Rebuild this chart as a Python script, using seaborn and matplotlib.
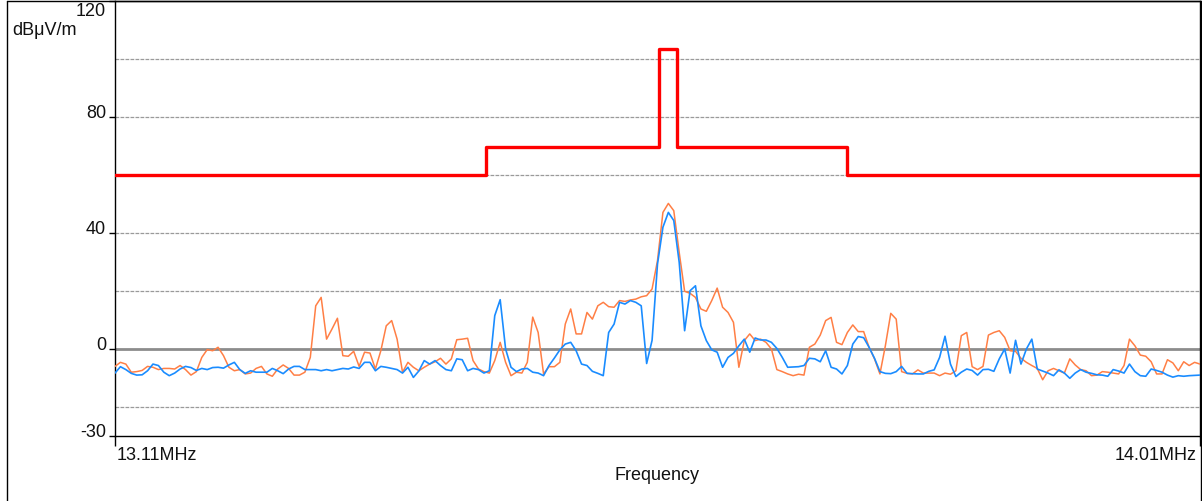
import numpy as np
import pandas as pd
import matplotlib
matplotlib.use("Agg")
import matplotlib.pyplot as plt
from matplotlib.lines import Line2D
import seaborn as sns

# ---- data -------------------------------------------------------------
f_start, f_stop = 13.11, 14.01  # MHz, sweep range

# limit line (dBuV/m), step-post
limit_freq = [13.11, 13.418, 13.561, 13.576, 13.717, 14.01]
limit_level = [60.0, 69.5, 103.5, 69.5, 60.0, 60.0]

# measured trace 1 (orange)
orange = [
    -6.0, -4.6, -5.2, -8.0, -7.8, -7.4, -6.0, -6.3, -7.1, -6.7,
    -6.7, -6.9, -5.7, -7.1, -9.0, -7.8, -2.9, -0.2, -0.6, 0.6,
    -2.3, -6.3, -7.5, -7.1, -8.6, -8.3, -6.7, -6.0, -8.6, -9.4,
    -6.9, -5.5, -6.7, -9.0, -9.0, -8.0, -2.9, 14.9, 17.8, 3.4,
    6.9, 10.6, -2.3, -2.5, -0.8, -6.0, -1.1, -1.4, -6.9, -0.6,
    8.0, 9.8, 3.4, -8.0, -4.6, -6.3, -7.5, -6.3, -5.2, -4.4,
    -3.2, -5.2, -3.4, 3.2, 3.4, 3.7, -4.0, -6.9, -7.8, -8.3,
    -4.0, 2.3, -4.6, -9.2, -8.0, -8.3, -4.6, 11.0, 5.7,
    -8.6, -6.1, -6.1, -4.6, 8.6, 13.8, 5.2, 5.2, 12.6, 10.3,
    14.9, 16.1, 14.6, 14.4, 16.7, 16.4, 16.9, 17.2, 18.0, 18.4,
    20.7, 30.5, 47.1, 50.2, 47.7, 33.3, 19.9, 19.2, 17.8, 13.8,
    13.0, 16.7, 21.0, 14.4, 12.6, 9.2, -6.3, 2.9, 5.2, 2.9,
    3.4, 2.3, 0.0, -7.1, -7.8, -8.6, -9.2, -8.7, -9.0, 0.6,
    1.7, 4.8, 9.8, 10.9, 2.3, 1.5, 5.7, 8.3, 6.0, 6.0,
    0.6, -3.4, -8.6, 1.1, 12.3, 10.3, -7.8, -8.4, -8.6, -7.2,
    -8.3, -8.3, -8.3, -9.2, -8.3, -8.7, -7.5, 4.6, 5.7,
    -6.1, -7.1, -6.0, 4.8, 5.7, 6.3, 4.0, -0.6, -0.8, -3.2,
    -4.6, -5.7, -6.7, -10.6, -7.5, -6.7, -7.5, -8.3, -3.4, -5.5,
    -7.1, -7.5, -9.2, -9.0, -7.8, -8.0, -8.3, -8.6, -5.7, 3.4,
    1.1, -2.1, -2.5, -4.4, -8.6, -8.6, -3.7, -4.8, -7.5, -4.4,
    -5.7, -4.6, -5.2,
]

# measured trace 2 (blue)
blue = [
    -8.3, -6.1, -7.1, -8.4, -9.0, -8.9, -7.5, -5.2, -5.7, -8.0,
    -9.2, -8.3, -6.9, -6.0, -6.4, -7.4, -6.7, -7.1, -6.4, -6.3,
    -6.6, -5.5, -4.6, -7.1, -8.4, -7.5, -8.0, -8.0, -8.0, -6.7,
    -7.5, -8.5, -6.9, -6.0, -6.0, -7.1, -7.1, -7.1, -7.5, -7.1,
    -7.5, -7.1, -6.7, -6.9, -6.2, -6.7, -4.6, -4.6, -7.5, -6.0,
    -6.3, -6.7, -7.1, -8.3, -6.3, -9.8, -7.6, -4.0, -5.2, -4.0,
    -5.7, -7.1, -7.5, -3.4, -3.7, -7.5, -6.7, -7.1, -8.3, -7.5,
    11.5, 17.0, 0.0, -6.3, -7.8, -6.9, -6.7, -8.0, -8.3,
    -9.2, -5.7, -3.1, -0.3, 1.7, 2.3, -0.6, -5.2, -5.7, -7.7,
    -8.4, -9.2, 5.7, 8.6, 16.1, 15.5, 16.7, 16.1, 14.9, -5.0,
    3.0, 29.3, 42.0, 47.1, 44.3, 29.9, 6.3, 20.1, 21.8, 8.0,
    2.9, -0.3, -1.1, -6.3, -2.9, -1.5, 1.1, 3.4, -1.1, 3.8,
    3.1, 3.1, 2.3, 0.2, -2.9, -6.3, -6.2, -6.1, -5.7, -3.2,
    -3.4, -4.4, -0.6, -6.3, -6.9, -8.6, -5.7, 1.7, 4.3, 3.9,
    0.6, -3.2, -7.8, -8.4, -8.5, -7.8, -6.0, -8.4, -8.5, -8.6,
    -8.6, -7.7, -7.2, -2.9, 4.4, -5.2, -9.5, -8.0, -6.9,
    -7.4, -9.0, -7.1, -7.0, -7.7, -3.4, 0.0, -8.3, 3.0, -5.2,
    0.0, 3.4, -6.9, -7.6, -8.3, -9.2, -7.2, -8.3, -10.1, -8.3,
    -7.1, -8.0, -8.4, -8.9, -9.0, -9.4, -7.1, -7.6, -8.3, -5.2,
    -7.8, -9.2, -9.4, -6.9, -7.4, -8.0, -9.0, -9.7, -9.2, -9.4,
    -9.2, -9.1, -9.0,
]

y_label_values = [-30, 0, 40, 80, 120]
grid_values = [-20, 20, 40, 60, 80, 100]
x_tick_labels = ["13.11MHz", "14.01MHz"]

# ---- build frames -------------------------------------------------------
freq = np.linspace(f_start, f_stop, len(orange))
df_o = pd.DataFrame({"freq": freq, "level": orange})
df_b = pd.DataFrame({"freq": np.linspace(f_start, f_stop, len(blue)), "level": blue})
df_l = pd.DataFrame({"freq": limit_freq, "level": limit_level})

sns.set_theme(style="white")
plt.rcParams["font.family"] = ["Liberation Sans", "DejaVu Sans"]

W, H = 1202, 502
FS = 13
fig = plt.figure(figsize=(W / 100, H / 100), dpi=100)
ax = fig.add_axes([115 / W, 1 - 437 / H, (1200 - 115) / W, (437 - 2) / H])

# grid lines
for g in grid_values:
    ax.axhline(g, color="#9a9a9a", lw=0.9, ls=(0, (3, 1)), zorder=1)
ax.axhline(0, color="#8c8c8c", lw=2.0, zorder=1)

sns.lineplot(data=df_o, x="freq", y="level", color="#ff7f45", lw=1.1,
             ax=ax, zorder=3, estimator=None)
sns.lineplot(data=df_b, x="freq", y="level", color="#1a8cff", lw=1.2,
             ax=ax, zorder=4, estimator=None)
sns.lineplot(data=df_l, x="freq", y="level", color="#ff0000", lw=2.4,
             drawstyle="steps-post", ax=ax, zorder=5, estimator=None)

ax.set_xlim(f_start, f_stop)
ax.set_ylim(-30, 120)
ax.set_xlabel("")
ax.set_ylabel("")

for s in ax.spines.values():
    s.set_color("black")
    s.set_linewidth(1.0)

ax.set_yticks(y_label_values)
ax.set_xticks([f_start, f_stop])
ax.tick_params(axis="y", direction="out", length=4.5, width=1, color="black",
               left=True, labelleft=False)
ax.tick_params(axis="x", direction="out", length=7, width=1, color="black",
               bottom=True, labelbottom=False)

# y labels (manual positions to mirror the reference)
tick_px = {-30: 433, 0: 346, 40: 230, 80: 114, 120: 12}
for v in y_label_values:
    fig.text(106 / W, 1 - tick_px[v] / H, str(v), ha="right", va="center",
             fontsize=FS, color="#111111")

fig.text(12 / W, 1 - 31 / H, "dBμV/m", ha="left", va="center",
         fontsize=FS, color="#111111")
fig.text(117 / W, 1 - 456 / H, x_tick_labels[0], ha="left", va="center",
         fontsize=FS, color="#111111")
fig.text(1197 / W, 1 - 456 / H, x_tick_labels[1], ha="right", va="center",
         fontsize=FS, color="#111111")
fig.text(657 / W, 1 - 476 / H, "Frequency", ha="center", va="center",
         fontsize=FS, color="#111111")

# outer frame lines
fig.add_artist(Line2D([7 / W, 7 / W], [0, 1 - 2 / H], color="black", lw=1.0))
fig.add_artist(Line2D([7 / W, 1201 / W], [1 - 2 / H, 1 - 2 / H], color="black", lw=1.0))
fig.add_artist(Line2D([1201 / W, 1201 / W], [0, 1 - 2 / H], color="black", lw=1.0))

fig.savefig("out.png", dpi=100)
